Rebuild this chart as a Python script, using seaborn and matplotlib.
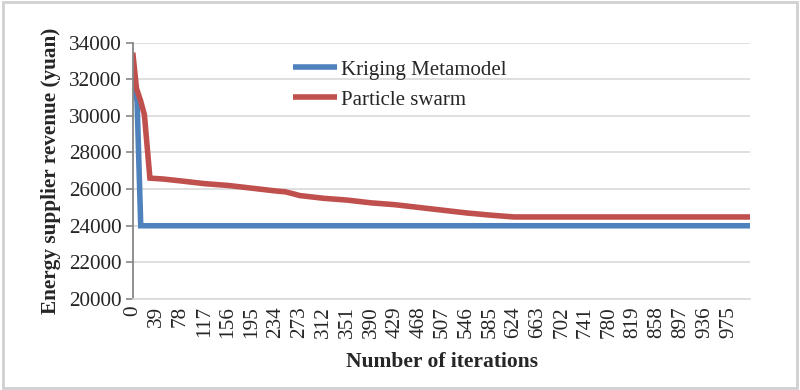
import numpy as np
import pandas as pd
import matplotlib
matplotlib.use("Agg")
import matplotlib.pyplot as plt
import seaborn as sns
from matplotlib.patches import Rectangle

# ---- data ----
kriging_iter = [0, 7, 13, 1011]
kriging_val = [32000, 30800, 24000, 24000]

pso_iter = [0, 6, 13, 19, 28, 50, 78, 117, 156, 195, 234, 250, 262, 273, 312,
            351, 390, 429, 468, 507, 546, 585, 624, 1011]
pso_val = [33450, 31500, 30800, 30050, 26600, 26550, 26450, 26300, 26200, 26050,
           25900, 25850, 25750, 25650, 25500, 25400, 25250, 25150, 25000, 24850,
           24700, 24580, 24480, 24480]

series_names = ["Kriging Metamodel", "Particle swarm"]
y_ticks = [20000, 22000, 24000, 26000, 28000, 30000, 32000, 34000]
x_ticks = list(range(0, 1000, 39))

df = pd.concat([
    pd.DataFrame({"iter": kriging_iter, "val": kriging_val, "series": series_names[0]}),
    pd.DataFrame({"iter": pso_iter, "val": pso_val, "series": series_names[1]}),
])

sns.set_style("white")
plt.rcParams["font.family"] = ["Liberation Serif", "DejaVu Serif"]

fig = plt.figure(figsize=(8, 3.9), dpi=100)
ax = fig.add_axes([0.166, 0.2333, 0.772, 0.6575])

palette = {series_names[0]: "#4F81BD", series_names[1]: "#C0504D"}
sns.lineplot(data=df, x="iter", y="val", hue="series", palette=palette,
             linewidth=4, ax=ax, sort=False, estimator=None,
             solid_joinstyle="miter", solid_capstyle="butt")

ax.set_xlim(0, 1011)
ax.set_ylim(20000, 34000)
ax.set_yticks(y_ticks)
ax.set_yticklabels([str(v) for v in y_ticks], fontsize=15.3)
ax.set_xticks(x_ticks)
ax.set_xticklabels([str(v) for v in x_ticks], rotation=90, fontsize=15.3)

ax.grid(axis="y", color="#D9D9D9", linewidth=1.2)
ax.grid(axis="x", visible=False)
ax.set_axisbelow(True)
for s in ["top", "right"]:
    ax.spines[s].set_visible(False)
ax.spines["left"].set_color("#868686")
ax.spines["left"].set_linewidth(1.3)
ax.spines["bottom"].set_color("#D9D9D9")
ax.spines["bottom"].set_linewidth(1.2)
ax.tick_params(axis="y", length=5, width=1.2, color="#868686", pad=3, direction="out", left=True)
ax.tick_params(axis="x", length=0, pad=5)

ax.set_xlabel("Number of iterations", fontsize=15.5, fontweight="bold", labelpad=10)
ax.set_ylabel("Energy supplier revenue (yuan)", fontsize=15.3, fontweight="bold", labelpad=6)

leg = ax.legend(loc="center left", bbox_to_anchor=(0.259, 0.835), frameon=False,
                fontsize=15, handlelength=2.1, handletextpad=0.2, labelspacing=0.5,
                borderaxespad=0, borderpad=0)
for line in leg.get_lines():
    line.set_linewidth(4)

fig.patches.append(Rectangle((0.004, 0.006), 0.992, 0.988, transform=fig.transFigure,
                             fill=False, edgecolor="#D0D0D0", linewidth=2))

fig.savefig("out.png", dpi=100)
